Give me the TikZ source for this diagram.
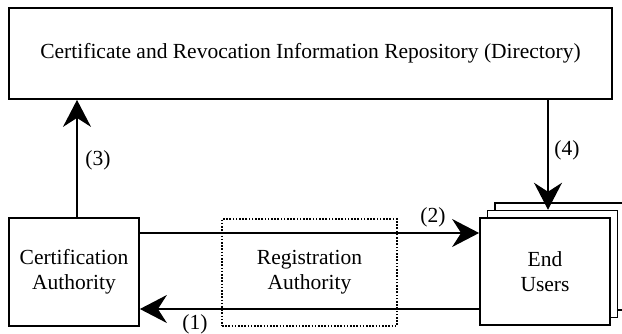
\documentclass[tikz,border=0pt]{standalone}
\usepackage{fontspec}
\setmainfont{Liberation Serif}
\usetikzlibrary{arrows.meta,calc}
\begin{document}
\begin{tikzpicture}[x=1pt,y=-1pt,
  box/.style={draw=black,line width=1.8pt,fill=white,rectangle,inner sep=0pt,align=center,font=\fontsize{21.5}{25}\selectfont},
  dotbox/.style={draw=black,line width=1.7pt,dash pattern=on 1.6pt off 1.6pt,rectangle,inner sep=0pt,align=center,font=\fontsize{21.5}{25}\selectfont},
  arr/.style={line width=1.2pt,-{Stealth[length=27pt,width=28pt,inset=9pt]}},
  lbl/.style={font=\fontsize{21.5}{25}\selectfont,inner sep=0pt}]
\useasboundingbox (0,0) rectangle (622,333);
\node[box,minimum width=603pt,minimum height=91pt] (repo) at (310.5,53.5) {Certificate and Revocation Information Repository (Directory)};
\node[box,minimum width=130pt,minimum height=108pt] (ca) at (74,272) {Certification\\Authority};
\node[dotbox,minimum width=175pt,minimum height=107pt] (ra) at (309.5,272.5) {Registration\\Authority};
\node[box,line width=1.5pt,minimum width=130pt,minimum height=107pt] (eu3) at (560,256.5) {};
\node[box,line width=1.5pt,minimum width=130pt,minimum height=107pt] (eu2) at (552.5,264) {};
\node[box,minimum width=130pt,minimum height=107pt] (eu) at (545,271.5) {End\\Users};
\coordinate (v3) at (77,0);
\coordinate (v4) at (548,0);
\coordinate (h2) at (0,233);
\coordinate (h1) at (0,309);
\draw[arr] (v3 |- ca.north) -- (v3 |- repo.south);
\draw[arr] (v4 |- repo.south) -- (v4 |- eu2.north);
\draw[arr] (h2 -| ca.east) -- (h2 -| eu.west);
\draw[arr] (h1 -| eu.west) -- (h1 -| ca.east);
\node[lbl] (l3) at (98,160) {(3)};
\node[lbl] (l4) at (567,150) {(4)};
\node[lbl] (l2) at (433,217) {(2)};
\node[lbl] (l1) at (195,324) {(1)};
\end{tikzpicture}
\end{document}
